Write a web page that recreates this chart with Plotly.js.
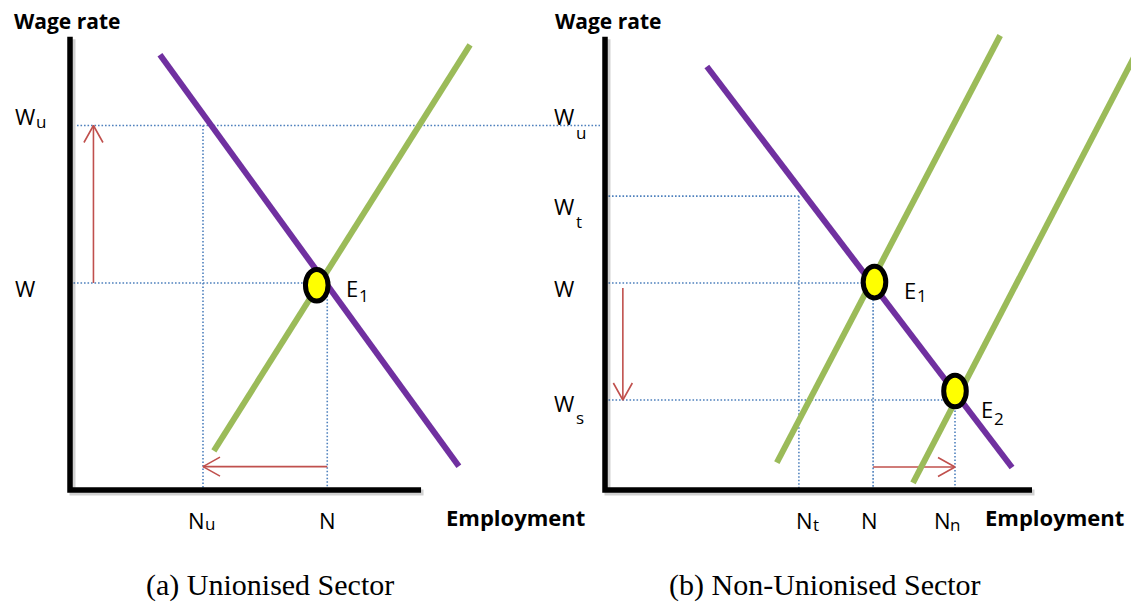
<!DOCTYPE html>
<html><head><meta charset="utf-8">
<script src="https://cdn.plot.ly/plotly-3.0.1.min.js"></script>
<style>html,body{margin:0;padding:0;background:#fff;}#chart{width:1131px;height:603px;}</style>
</head><body><div id="chart"></div>
<script>
// ---------- DATA : panel (a) Unionised Sector ----------
const aWageNames  = ['Wu', 'W'];
const aWageValues = [8.1, 4.6];
const aEmpNames   = ['Nu', 'N'];
const aEmpValues  = [3.8, 7.35];
const aDemandX = [2.57, 11.11];
const aDemandY = [9.67, 0.53];
const aSupplyX = [4.11, 11.43];
const aSupplyY = [0.87, 9.89];
const aEqNames = ['E1'];
const aEqX = [7.05];
const aEqY = [4.55];
const aAxisEnd = [10.03, 10.07];   // [employment axis length, wage axis length]

// ---------- DATA : panel (b) Non-Unionised Sector ----------
const bWageNames  = ['Wu', 'Wt', 'W', 'Ws'];
const bWageValues = [8.1, 6.53, 4.6, 2.0];
const bEmpNames   = ['Nt', 'N', 'Nn'];
const bEmpValues  = [5.54, 7.66, 10.0];
const bDemandX  = [2.91, 11.63];
const bDemandY  = [9.41, 0.50];
const bSupply1X = [4.91, 11.29];
const bSupply1Y = [0.61, 10.10];
const bSupply2X = [8.8, 15.43];
const bSupply2Y = [0.16, 10.09];
const bEqNames = ['E1', 'E2'];
const bEqX = [7.7, 10.0];
const bEqY = [4.62, 2.2];
const bAxisEnd = [12.2, 10.07];

// ---------- layout constants ----------
const WPX = 1131, HPX = 603;
const SX = 35, SY = 45;           // pixels per unit
const PURPLE = '#7030A0', GREEN = '#9BBB59', BLUE = '#4F81BD', RED = '#C0504D';
const SANS = 'Open Sans, Noto Sans, sans-serif';
const SERIF = 'Liberation Serif, Times New Roman, serif';

const traces = [];
function line(xs, ys, xa, color, width, dash) {
  traces.push({type:'scatter', mode:'lines', x:xs, y:ys, xaxis:xa, yaxis:'y',
    line:{color:color, width:width, dash:dash || 'solid'}, hoverinfo:'skip', showlegend:false, cliponaxis:true});
}
function arrow(x0, y0, x1, y1, xa) {
  const dxp = (x1 - x0) * SX, dyp = (y1 - y0) * SY;
  const L = Math.hypot(dxp, dyp), ux = dxp / L, uy = dyp / L;
  const back = 17, half = 9.5;
  const a1x = x1 + (-ux * back - uy * half) / SX, a1y = y1 + (-uy * back + ux * half) / SY;
  const a2x = x1 + (-ux * back + uy * half) / SX, a2y = y1 + (-uy * back - ux * half) / SY;
  line([x0, x1, null, a1x, x1, a2x], [y0, y1, null, a1y, y1, a2y], xa, RED, 1.6);
}
const DOT = '1.6px,1.9px';

// ----- panel (a) -----
const aWu = aWageValues[0], aW = aWageValues[1], aNu = aEmpValues[0], aN = aEmpValues[1];
line([0.2, 15.3], [aWu, aWu], 'x', BLUE, 1.6, DOT);
line([aNu, aNu], [aWu, 0], 'x', BLUE, 1.6, DOT);
line([0, aEqX[0]], [aW, aW], 'x', BLUE, 1.6, DOT);
line([aN, aN], [aEqY[0], 0], 'x', BLUE, 1.6, DOT);
arrow(0.67, aW, 0.67, aWu, 'x');
arrow(aN, 0.52, aNu, 0.52, 'x');
line(aDemandX, aDemandY, 'x', PURPLE, 6);
line(aSupplyX, aSupplyY, 'x', GREEN, 6);
// axis shadow + axes
line([0 + 2.5/SX, 0 + 2.5/SX, aAxisEnd[0] + 2.5/SX], [aAxisEnd[1] - 2.5/SY, -2.5/SY, -2.5/SY], 'x', 'rgba(0,0,0,0.18)', 6);
line([0, 0, aAxisEnd[0]], [aAxisEnd[1], 0, 0], 'x', '#000', 5.5);

// ----- panel (b) -----
const bWt = bWageValues[1], bW = bWageValues[2], bWs = bWageValues[3];
const bNt = bEmpValues[0], bN = bEmpValues[1], bNn = bEmpValues[2];
line([0, bNt], [bWt, bWt], 'x2', BLUE, 1.6, DOT);
line([bNt, bNt], [bWt, 0], 'x2', BLUE, 1.6, DOT);
line([0, bEqX[0]], [bW, bW], 'x2', BLUE, 1.6, DOT);
line([bN, bN], [bEqY[0], 0], 'x2', BLUE, 1.6, DOT);
line([0, bNn], [bWs, bWs], 'x2', BLUE, 1.6, DOT);
line([bNn, bNn], [bWs, 0], 'x2', BLUE, 1.6, DOT);
arrow(0.51, 4.49, 0.51, bWs, 'x2');
arrow(bN, 0.51, bNn, 0.51, 'x2');
line(bDemandX, bDemandY, 'x2', PURPLE, 6);
line(bSupply1X, bSupply1Y, 'x2', GREEN, 6);
line(bSupply2X, bSupply2Y, 'x2', GREEN, 6);
line([2.5/SX, 2.5/SX, bAxisEnd[0] + 2.5/SX], [bAxisEnd[1] - 2.5/SY, -2.5/SY, -2.5/SY], 'x2', 'rgba(0,0,0,0.18)', 6);
line([0, 0, bAxisEnd[0]], [bAxisEnd[1], 0, 0], 'x2', '#000', 5.5);

// ----- equilibrium ellipses -----
const shapes = [];
function ellipse(xref, x, y) {
  shapes.push({type:'circle', xref:xref, yref:'y', xsizemode:'pixel', ysizemode:'pixel',
    xanchor:x, yanchor:y, x0:-11.3, x1:11.3, y0:-15.8, y1:15.8,
    fillcolor:'#FFFF00', line:{color:'#000', width:5}, layer:'above'});
}
aEqX.forEach((x, i) => ellipse('x', x, aEqY[i]));
bEqX.forEach((x, i) => ellipse('x2', x, bEqY[i]));

// ----- text -----
const ann = [];
function txt(text, o, size, family) {
  ann.push(Object.assign({text:text, showarrow:false, xanchor:'center', yanchor:'middle',
    font:{family:family || SANS, size:size || 22, color:'#000'}}, o));
}
const py = p => 1 - p / HPX, px = p => p / WPX;
// headings
txt('<b>Wage rate</b>', {xref:'paper', x:px(67), yref:'paper', y:py(21)}, 21);
txt('<b>Wage rate</b>', {xref:'paper', x:px(607.5), yref:'paper', y:py(21)}, 21);
txt('<b>Employment</b>', {xref:'paper', x:px(515.5), yref:'paper', y:py(517)}, 22);
txt('<b>Employment</b>', {xref:'paper', x:px(1054), yref:'paper', y:py(517)}, 22);
txt('(a) Unionised Sector', {xref:'paper', x:px(270), yref:'paper', y:py(585)}, 30, SERIF);
txt('(b) Non-Unionised Sector', {xref:'paper', x:px(825), yref:'paper', y:py(585)}, 30, SERIF);

// panel (a) wage labels
const aWageOff = {Wu:{dy:9.5, sx:41, sdy:4.5}, W:{dy:-5}};
aWageNames.forEach((n, i) => {
  const o = aWageOff[n];
  txt(n[0], {xref:'paper', x:px(24.5), yref:'y', y:aWageValues[i], yshift:o.dy});
  if (n.length > 1) txt(n.slice(1), {xref:'paper', x:px(o.sx), yref:'y', y:aWageValues[i], yshift:o.sdy}, 17);
});
const aEmpOff = {Nu:{dx:-7, sdx:6.7}, N:{dx:0}};
aEmpNames.forEach((n, i) => {
  const o = aEmpOff[n];
  txt(n[0], {xref:'x', x:aEmpValues[i], xshift:o.dx, yref:'paper', y:py(519.5)});
  if (n.length > 1) txt(n.slice(1), {xref:'x', x:aEmpValues[i], xshift:o.sdx, yref:'paper', y:py(523)}, 17);
});
txt('E', {xref:'x', x:aEqX[0], xshift:35.25, yref:'y', y:aEqY[0], yshift:-2.25});
txt('1', {xref:'x', x:aEqX[0], xshift:46.75, yref:'y', y:aEqY[0], yshift:-10.25}, 17);

// panel (b) wage labels
const bWageOff = {Wu:{dy:9.5, sx:581, sdy:-6.5}, Wt:{dy:-9.85, sx:578.5, sdy:-25.25}, W:{dy:-5}, Ws:{dy:-3, sx:579.6, sdy:-17.4}};
bWageNames.forEach((n, i) => {
  const o = bWageOff[n];
  txt(n[0], {xref:'paper', x:px(563.5), yref:'y', y:bWageValues[i], yshift:o.dy});
  if (n.length > 1) txt(n.slice(1), {xref:'paper', x:px(o.sx), yref:'y', y:bWageValues[i], yshift:o.sdy}, 17);
});
const bEmpOff = {Nt:{dx:5.5, sdx:16.6}, N:{dx:-3.6}, Nn:{dx:-12.5, sdx:-0.5}};
bEmpNames.forEach((n, i) => {
  const o = bEmpOff[n];
  txt(n[0], {xref:'x2', x:bEmpValues[i], xshift:o.dx, yref:'paper', y:py(519.5)});
  if (n.length > 1) txt(n.slice(1), {xref:'x2', x:bEmpValues[i], xshift:o.sdx, yref:'paper', y:py(524)}, 17);
});
const bEqOff = [{dx:35, dy:-7.6, sdx:47.5, sdy:-12.9}, {dx:32, dy:-18.2, sdx:44, sdy:-27.4}];
bEqNames.forEach((n, i) => {
  const o = bEqOff[i];
  txt(n[0], {xref:'x2', x:bEqX[i], xshift:o.dx, yref:'y', y:bEqY[i], yshift:o.dy});
  txt(n.slice(1), {xref:'x2', x:bEqX[i], xshift:o.sdx, yref:'y', y:bEqY[i], yshift:o.sdy}, 17);
});

const hidden = {showgrid:false, zeroline:false, showline:false, showticklabels:false, ticks:'', fixedrange:true};
const layout = {
  width:WPX, height:HPX, autosize:false,
  margin:{l:0, r:0, t:0, b:0, pad:0},
  paper_bgcolor:'#ffffff', plot_bgcolor:'rgba(0,0,0,0)',
  showlegend:false,
  xaxis: Object.assign({domain:[0, 600/WPX], range:[-70/SX, 530/SX], anchor:'y'}, hidden),
  xaxis2: Object.assign({domain:[600/WPX, 1], range:[-5/SX, 526/SX], anchor:'y'}, hidden),
  yaxis: Object.assign({domain:[0, 1], range:[-113/SY, 490/SY], anchor:'x'}, hidden),
  shapes:shapes,
  annotations:ann
};
Plotly.newPlot('chart', traces, layout, {displayModeBar:false, staticPlot:true});
</script>
</body></html>
